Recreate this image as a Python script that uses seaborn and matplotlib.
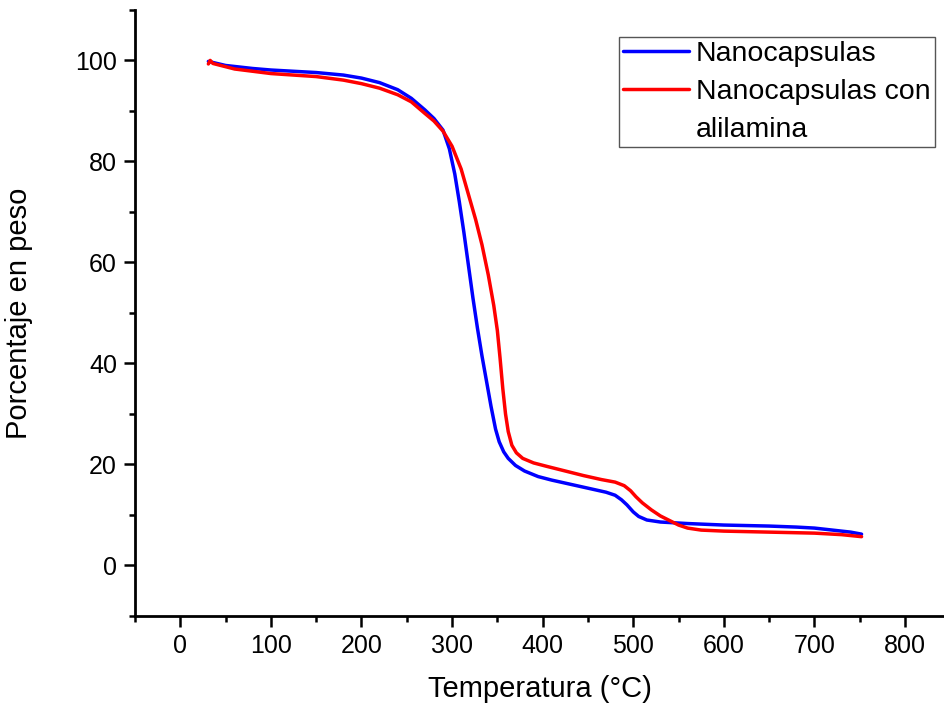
import matplotlib
matplotlib.use("Agg")
import matplotlib.pyplot as plt
from matplotlib.lines import Line2D
from matplotlib.ticker import MultipleLocator
import seaborn as sns

# Nanocapsulas (blue)
temp_nano = [31, 50, 80, 100, 150, 180, 200, 220, 240, 255, 270, 280, 290, 297, 303,
             308, 313, 318, 323, 328, 333, 338, 343, 348, 352, 357, 362, 370, 380,
             395, 410, 430, 450, 470, 480, 487, 493, 500, 506, 515, 530, 560, 600,
             650, 680, 700, 720, 740, 752]
peso_nano = [99.8, 99.0, 98.4, 98.1, 97.6, 97.1, 96.5, 95.6, 94.2, 92.5, 90.2, 88.5,
             86.2, 82.5, 77.5, 72.0, 66.0, 59.5, 53.0, 47.0, 41.5, 36.5, 31.5, 27.0,
             24.5, 22.5, 21.2, 19.8, 18.7, 17.6, 16.9, 16.1, 15.3, 14.5, 13.9, 13.0,
             12.0, 10.6, 9.7, 9.0, 8.6, 8.3, 8.0, 7.8, 7.6, 7.4, 7.0, 6.6, 6.2]

# Nanocapsulas con alilamina (red)
temp_ali = [31, 33, 36, 60, 100, 150, 180, 200, 220, 240, 255, 270, 280, 290, 300,
            310, 318, 326, 333, 340, 346, 350, 353, 356, 359, 362, 366, 371, 378,
            390, 405, 425, 445, 465, 480, 490, 497, 503, 510, 520, 530, 540, 550,
            560, 575, 600, 650, 700, 730, 752]
peso_ali = [99.3, 100.0, 99.4, 98.3, 97.4, 96.8, 96.1, 95.4, 94.5, 93.2, 91.8, 89.5,
            88.0, 86.0, 83.0, 78.5, 73.5, 68.5, 63.5, 57.5, 51.5, 46.5, 41.0, 35.0,
            30.0, 26.5, 23.8, 22.3, 21.2, 20.3, 19.6, 18.7, 17.8, 17.0, 16.5, 15.8,
            14.8, 13.6, 12.4, 11.0, 9.8, 8.9, 8.0, 7.4, 7.0, 6.8, 6.6, 6.4, 6.1, 5.7]

legend_labels = ["Nanocapsulas", "Nanocapsulas con", "alilamina"]

sns.set_style("ticks")
plt.rcParams["font.family"] = ["Liberation Sans", "DejaVu Sans"]
plt.rcParams["text.color"] = "black"
plt.rcParams["axes.labelcolor"] = "black"

fig = plt.figure(figsize=(9.44, 7.08), dpi=100)
ax = fig.add_axes([0.143, 0.130, 0.857, 0.856])

line_kw = dict(linewidth=2.5, sort=False, estimator=None,
               solid_joinstyle="round", solid_capstyle="round")
sns.lineplot(x=temp_nano, y=peso_nano, ax=ax, color="#0000ff", **line_kw)
sns.lineplot(x=temp_ali, y=peso_ali, ax=ax, color="#ff0000", **line_kw)

ax.set_xlim(-50, 843)
ax.set_ylim(-10, 110)
ax.xaxis.set_major_locator(MultipleLocator(100))
ax.xaxis.set_minor_locator(MultipleLocator(50))
ax.set_yticks([0, 20, 40, 60, 80, 100])
ax.yaxis.set_minor_locator(MultipleLocator(10))

ax.tick_params(which="major", direction="out", length=8, width=1.8, colors="black",
               labelsize=18, pad=5)
ax.tick_params(which="minor", direction="out", length=4.5, width=1.8, colors="black")

for side in ["top", "right"]:
    ax.spines[side].set_visible(False)
for side in ["left", "bottom"]:
    ax.spines[side].set_linewidth(2.0)
    ax.spines[side].set_color("black")

ax.set_xlabel("Temperatura (°C)", fontsize=21, labelpad=12)
ax.set_ylabel("Porcentaje en peso", fontsize=21, labelpad=30)

# third entry has no handle: it carries the wrapped part of the red label
handles = [
    Line2D([], [], color="#0000ff", linewidth=2.5),
    Line2D([], [], color="#ff0000", linewidth=2.5),
    Line2D([], [], color="none", linewidth=0),
]
leg = ax.legend(handles, legend_labels, loc="upper right",
                bbox_to_anchor=(0.99, 0.948), bbox_transform=fig.transFigure,
                fontsize=20.5, frameon=True, fancybox=False, edgecolor="#555555",
                framealpha=1, handlelength=2.3, handletextpad=0.25,
                labelspacing=0.42, borderpad=0.15, borderaxespad=0)
leg.get_frame().set_linewidth(1.0)

fig.savefig("out.png", dpi=100, facecolor="white")
